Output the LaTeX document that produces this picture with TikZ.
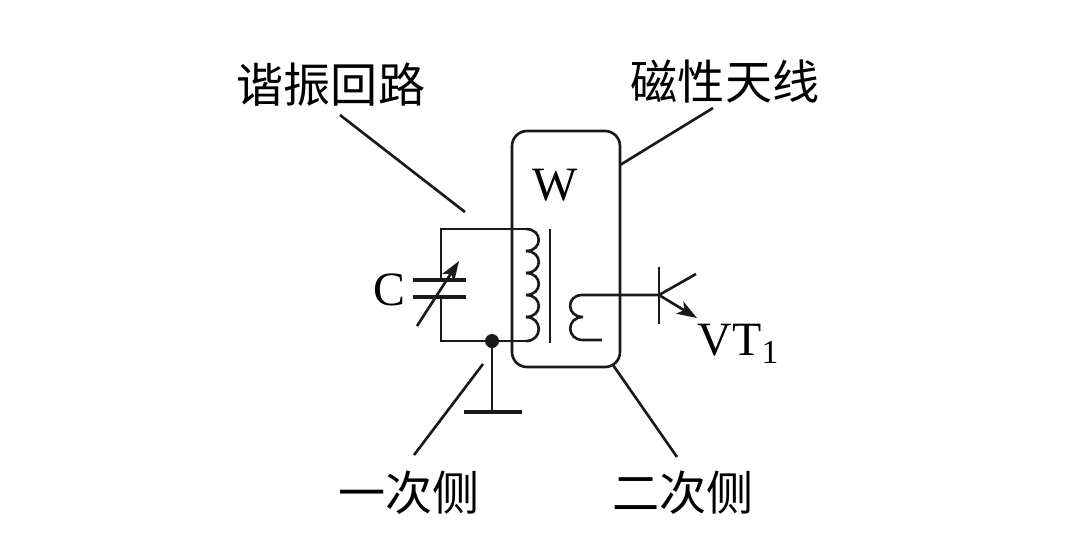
\documentclass[tikz,border=0pt]{standalone}
\usepackage{fontspec}
\usetikzlibrary{arrows.meta}
\setmainfont{Liberation Serif}
\newfontfamily\cjk{Noto Sans CJK SC}
\tikzset{
    wire/.style = {line width = 0.75pt, color = black!90},
    plate/.style = {line width = 1.4pt, color = black!90},
    tip/.style = {-{Stealth[length = 0.2cm, width = 0.14cm, inset = 0.05cm]}},
    cnlabel/.style = {inner sep = 0, font = \cjk\fontsize{13.4}{16}\selectfont},
    enlabel/.style = {inner sep = 0, font = \fontsize{13.6}{16}\selectfont}
}
\begin{document}
\begin{tikzpicture}[x = 0.01cm, y = -0.01cm]
        \useasboundingbox (0, 0) rectangle (1084, 544);
        \node [cnlabel] (resonant) at (331, 85) {谐振回路};
        \node [cnlabel] (antenna) at (725, 82) {磁性天线};
        \node [cnlabel] (primary) at (409, 493) {一次侧};
        \node [cnlabel] (secondary) at (683, 493) {二次侧};
        \node [enlabel] (capC) at (389, 290) {C};
        \node [enlabel] (coreW) at (555, 185) {W};
        \node [enlabel] (transVT) at (739, 344) {VT\textsubscript{1}};
        \coordinate (resonantA) at (340, 115);
        \coordinate (resonantB) at (465, 212);
        \coordinate (antennaA) at (713, 108);
        \coordinate (antennaB) at (620, 165);
        \coordinate (primaryA) at (414, 455);
        \coordinate (primaryB) at (483, 364);
        \coordinate (secondaryA) at (677, 457);
        \coordinate (secondaryB) at (613, 365);
        \coordinate (junction) at (492, 341);
        \coordinate (earth) at (492, 412);
        \coordinate (base) at (659, 295);
        \draw [wire] (resonantA) -- (resonantB);
        \draw [wire] (antennaA) -- (antennaB);
        \draw [wire] (primaryA) -- (primaryB);
        \draw [wire] (secondaryA) -- (secondaryB);
        \draw [wire, rounded corners = 0.15cm] (512, 131) rectangle (620, 367);
        \draw [wire] (441, 280) -- (441, 229) -- (528, 229);
        \draw [wire] (441, 297) -- (441, 341) -- (junction) -- (528, 341);
        \foreach \ya/\yb in {229/251, 251/273, 273/295, 295/317, 317/341} {
            \draw [wire] (526, \ya) .. controls (543, \ya) and (543, \yb) .. (526, \yb);
        }
        \draw [wire] (550, 229) -- (550, 343);
        \draw [plate] (413, 280) -- (466, 280);
        \draw [plate] (413, 297) -- (466, 297);
        \draw [wire, tip] (417, 326) -- (459, 261);
        \fill [black!90] (junction) circle (7);
        \draw [wire] (junction) -- (earth);
        \draw [plate] (464, 412) -- (522, 412);
        \draw [wire] (base) -- (582, 295) .. controls (566, 295) and (566, 317) .. (583, 317) .. controls (566, 317) and (566, 340) .. (583, 340) -- (602, 340);
        \draw [wire] (659, 267) -- (659, 324);
        \draw [wire] (base) -- (696, 274);
        \draw [wire, tip] (base) -- (697, 318);
    \end{tikzpicture}
\end{document}
